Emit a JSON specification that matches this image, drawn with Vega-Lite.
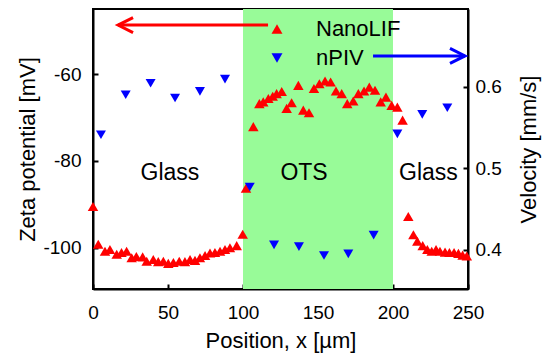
{
  "$schema": "https://vega.github.io/schema/vega-lite/v6.json",
  "width": 375,
  "height": 280,
  "autosize": {"type": "none"},
  "padding": {"left": 93, "top": 9, "right": 79, "bottom": 65},
  "config": {
    "font": "Liberation Sans",
    "view": {"stroke": "black", "strokeWidth": 2},
    "axis": {
      "grid": false,
      "domainColor": "black",
      "domainWidth": 2,
      "tickColor": "black",
      "tickWidth": 2,
      "tickSize": -5,
      "labelColor": "black",
      "labelFontSize": 19,
      "labelFont": "Liberation Sans",
      "labelFlush": false,
      "titleColor": "black",
      "titleFontSize": 22,
      "titleFontWeight": "normal",
      "titleFont": "Liberation Sans"
    }
  },
  "datasets": {
    "band": [{"x": 100, "x2": 200}],
    "nanolif": [
      {"x": 0, "v": -90.5, "series": "NanoLIF"},
      {"x": 3.5, "v": -99.2, "series": "NanoLIF"},
      {"x": 8, "v": -100.8, "series": "NanoLIF"},
      {"x": 11.3, "v": -100.4, "series": "NanoLIF"},
      {"x": 15.8, "v": -101.5, "series": "NanoLIF"},
      {"x": 19, "v": -101.1, "series": "NanoLIF"},
      {"x": 22.4, "v": -100.8, "series": "NanoLIF"},
      {"x": 25.8, "v": -102.3, "series": "NanoLIF"},
      {"x": 28.9, "v": -102.0, "series": "NanoLIF"},
      {"x": 33.1, "v": -102.1, "series": "NanoLIF"},
      {"x": 35.8, "v": -103.1, "series": "NanoLIF"},
      {"x": 40.2, "v": -102.7, "series": "NanoLIF"},
      {"x": 43.5, "v": -103.2, "series": "NanoLIF"},
      {"x": 46.9, "v": -103.1, "series": "NanoLIF"},
      {"x": 50.2, "v": -103.6, "series": "NanoLIF"},
      {"x": 53.6, "v": -103.4, "series": "NanoLIF"},
      {"x": 57.5, "v": -103.1, "series": "NanoLIF"},
      {"x": 61.3, "v": -103.2, "series": "NanoLIF"},
      {"x": 64.7, "v": -102.7, "series": "NanoLIF"},
      {"x": 68, "v": -102.9, "series": "NanoLIF"},
      {"x": 71.3, "v": -102.3, "series": "NanoLIF"},
      {"x": 74.7, "v": -101.8, "series": "NanoLIF"},
      {"x": 78, "v": -101.2, "series": "NanoLIF"},
      {"x": 81.3, "v": -101.1, "series": "NanoLIF"},
      {"x": 84.7, "v": -100.8, "series": "NanoLIF"},
      {"x": 88, "v": -100.4, "series": "NanoLIF"},
      {"x": 91.3, "v": -100.0, "series": "NanoLIF"},
      {"x": 95.8, "v": -99.5, "series": "NanoLIF"},
      {"x": 99.8, "v": -96.9, "series": "NanoLIF"},
      {"x": 102, "v": -86.3, "series": "NanoLIF"},
      {"x": 106.9, "v": -72.1, "series": "NanoLIF"},
      {"x": 110.9, "v": -66.8, "series": "NanoLIF"},
      {"x": 113.5, "v": -66.4, "series": "NanoLIF"},
      {"x": 116.9, "v": -65.6, "series": "NanoLIF"},
      {"x": 119.8, "v": -65.1, "series": "NanoLIF"},
      {"x": 122.4, "v": -64.5, "series": "NanoLIF"},
      {"x": 125.8, "v": -64.0, "series": "NanoLIF"},
      {"x": 129.1, "v": -67.9, "series": "NanoLIF"},
      {"x": 132.4, "v": -66.6, "series": "NanoLIF"},
      {"x": 136.9, "v": -62.6, "series": "NanoLIF"},
      {"x": 140.2, "v": -68.3, "series": "NanoLIF"},
      {"x": 144, "v": -68.9, "series": "NanoLIF"},
      {"x": 147.3, "v": -63.3, "series": "NanoLIF"},
      {"x": 150.9, "v": -62.2, "series": "NanoLIF"},
      {"x": 154.7, "v": -61.6, "series": "NanoLIF"},
      {"x": 158.4, "v": -61.8, "series": "NanoLIF"},
      {"x": 162, "v": -63.9, "series": "NanoLIF"},
      {"x": 165.8, "v": -64.5, "series": "NanoLIF"},
      {"x": 169.5, "v": -66.8, "series": "NanoLIF"},
      {"x": 173.5, "v": -66.2, "series": "NanoLIF"},
      {"x": 176.9, "v": -64.5, "series": "NanoLIF"},
      {"x": 180.7, "v": -63.9, "series": "NanoLIF"},
      {"x": 184.2, "v": -63.0, "series": "NanoLIF"},
      {"x": 188, "v": -63.7, "series": "NanoLIF"},
      {"x": 191.8, "v": -66.4, "series": "NanoLIF"},
      {"x": 195.3, "v": -65.3, "series": "NanoLIF"},
      {"x": 199.1, "v": -67.2, "series": "NanoLIF"},
      {"x": 202.9, "v": -67.6, "series": "NanoLIF"},
      {"x": 206.4, "v": -70.6, "series": "NanoLIF"},
      {"x": 210.2, "v": -92.8, "series": "NanoLIF"},
      {"x": 213.6, "v": -97.0, "series": "NanoLIF"},
      {"x": 216.2, "v": -98.5, "series": "NanoLIF"},
      {"x": 219.8, "v": -99.5, "series": "NanoLIF"},
      {"x": 222.9, "v": -100.4, "series": "NanoLIF"},
      {"x": 225.8, "v": -100.8, "series": "NanoLIF"},
      {"x": 228.7, "v": -100.4, "series": "NanoLIF"},
      {"x": 231.3, "v": -100.8, "series": "NanoLIF"},
      {"x": 234.7, "v": -101.0, "series": "NanoLIF"},
      {"x": 237.6, "v": -101.1, "series": "NanoLIF"},
      {"x": 240.7, "v": -101.1, "series": "NanoLIF"},
      {"x": 243.6, "v": -101.3, "series": "NanoLIF"},
      {"x": 246.4, "v": -101.7, "series": "NanoLIF"},
      {"x": 249.2, "v": -101.9, "series": "NanoLIF"}
    ],
    "npiv": [
      {"x": 5.3, "u": 0.541, "series": "nPIV"},
      {"x": 21.8, "u": 0.590, "series": "nPIV"},
      {"x": 38.4, "u": 0.604, "series": "nPIV"},
      {"x": 54.7, "u": 0.586, "series": "nPIV"},
      {"x": 71.3, "u": 0.594, "series": "nPIV"},
      {"x": 88, "u": 0.609, "series": "nPIV"},
      {"x": 104.5, "u": 0.477, "series": "nPIV"},
      {"x": 120.7, "u": 0.406, "series": "nPIV"},
      {"x": 137.3, "u": 0.404, "series": "nPIV"},
      {"x": 154, "u": 0.393, "series": "nPIV"},
      {"x": 170.2, "u": 0.395, "series": "nPIV"},
      {"x": 187.1, "u": 0.418, "series": "nPIV"},
      {"x": 202.9, "u": 0.542, "series": "nPIV"},
      {"x": 219.5, "u": 0.566, "series": "nPIV"},
      {"x": 236.2, "u": 0.574, "series": "nPIV"}
    ],
    "redline": [{"x": 16.7, "x2": 116.7, "v": -48.7}],
    "redhead": [{"x": 16.7, "v": -48.7}],
    "blueline": [{"x": 186.7, "x2": 248, "v": -55.8}],
    "bluehead": [{"x": 248, "v": -55.8}],
    "labels": [
      {"x": 51.3, "v": -84.4, "text": "Glass"},
      {"x": 140.7, "v": -84.4, "text": "OTS"},
      {"x": 223.6, "v": -84.4, "text": "Glass"}
    ]
  },
  "layer": [
    {
      "layer": [
        {
          "data": {"name": "band"},
          "mark": {"type": "rect", "color": "#98fb98"},
          "encoding": {
            "x": {"field": "x", "type": "quantitative", "scale": {"domain": [0, 250], "nice": false}},
            "x2": {"field": "x2"}
          }
        },
        {
          "data": {"name": "nanolif"},
          "mark": {"type": "point", "filled": true, "opacity": 1, "size": 110, "strokeWidth": 0},
          "encoding": {
            "x": {
              "field": "x", "type": "quantitative",
              "scale": {"domain": [0, 250], "nice": false},
              "axis": {"title": "Position, x [µm]", "values": [0, 50, 100, 150, 200, 250], "labelPadding": 19, "titlePadding": 8}
            },
            "y": {
              "field": "v", "type": "quantitative",
              "scale": {"domain": [-109.5, -45], "nice": false, "zero": false},
              "axis": {"orient": "left", "title": "Zeta potential [mV]", "values": [-100, -80, -60], "labelExpr": "'' + datum.value", "labelPadding": 17, "titlePadding": 3}
            },
            "color": {
              "field": "series", "type": "nominal",
              "scale": {"domain": ["NanoLIF", "nPIV"], "range": ["#ff0000", "#0000ff"]},
              "legend": {"orient": "none", "legendX": 173, "legendY": 9, "title": null, "padding": 0, "symbolSize": 120, "labelFontSize": 22, "labelFont": "Liberation Sans", "labelColor": "black", "labelOffset": 28, "rowPadding": 7, "symbolStrokeWidth": 0}
            },
            "shape": {
              "field": "series", "type": "nominal",
              "scale": {"domain": ["NanoLIF", "nPIV"], "range": ["triangle-up", "triangle-down"]},
              "legend": {"orient": "none", "legendX": 173, "legendY": 9, "title": null, "padding": 0, "symbolSize": 120, "labelFontSize": 22, "labelFont": "Liberation Sans", "labelColor": "black", "labelOffset": 28, "rowPadding": 7, "symbolStrokeWidth": 0}
            }
          }
        },
        {
          "data": {"name": "redline"},
          "mark": {"type": "rule", "color": "#ff0000", "strokeWidth": 3},
          "encoding": {
            "x": {"field": "x", "type": "quantitative", "scale": {"domain": [0, 250], "nice": false}},
            "x2": {"field": "x2"},
            "y": {"field": "v", "type": "quantitative", "scale": {"domain": [-109.5, -45], "nice": false, "zero": false}}
          }
        },
        {
          "data": {"name": "redhead"},
          "mark": {"type": "point", "shape": "M2,-1L0,0L2,1", "filled": false, "color": "#ff0000", "strokeWidth": 3, "size": 225, "opacity": 1},
          "encoding": {
            "x": {"field": "x", "type": "quantitative", "scale": {"domain": [0, 250], "nice": false}},
            "y": {"field": "v", "type": "quantitative", "scale": {"domain": [-109.5, -45], "nice": false, "zero": false}}
          }
        },
        {
          "data": {"name": "blueline"},
          "mark": {"type": "rule", "color": "#0000ff", "strokeWidth": 3},
          "encoding": {
            "x": {"field": "x", "type": "quantitative", "scale": {"domain": [0, 250], "nice": false}},
            "x2": {"field": "x2"},
            "y": {"field": "v", "type": "quantitative", "scale": {"domain": [-109.5, -45], "nice": false, "zero": false}}
          }
        },
        {
          "data": {"name": "bluehead"},
          "mark": {"type": "point", "shape": "M-2,-1L0,0L-2,1", "filled": false, "color": "#0000ff", "strokeWidth": 3, "size": 225, "opacity": 1},
          "encoding": {
            "x": {"field": "x", "type": "quantitative", "scale": {"domain": [0, 250], "nice": false}},
            "y": {"field": "v", "type": "quantitative", "scale": {"domain": [-109.5, -45], "nice": false, "zero": false}}
          }
        },
        {
          "data": {"name": "labels"},
          "mark": {"type": "text", "fontSize": 23, "font": "Liberation Sans", "color": "black", "align": "center", "baseline": "alphabetic"},
          "encoding": {
            "x": {"field": "x", "type": "quantitative", "scale": {"domain": [0, 250], "nice": false}},
            "y": {"field": "v", "type": "quantitative", "scale": {"domain": [-109.5, -45], "nice": false, "zero": false}},
            "text": {"field": "text"}
          }
        }
      ]
    },
    {
      "data": {"name": "npiv"},
      "mark": {"type": "point", "filled": true, "opacity": 1, "size": 100, "strokeWidth": 0},
      "encoding": {
        "x": {"field": "x", "type": "quantitative", "scale": {"domain": [0, 250], "nice": false}},
        "y": {
          "field": "u", "type": "quantitative",
          "scale": {"domain": [0.352, 0.695], "nice": false, "zero": false},
          "axis": {"orient": "right", "title": "Velocity [mm/s]", "values": [0.4, 0.5, 0.6], "format": ".1f", "labelPadding": 12, "titleAngle": 270, "titleBaseline": "top", "titlePadding": 17}
        },
        "color": {"field": "series", "type": "nominal", "scale": {"domain": ["NanoLIF", "nPIV"], "range": ["#ff0000", "#0000ff"]}, "legend": null},
        "shape": {"field": "series", "type": "nominal", "scale": {"domain": ["NanoLIF", "nPIV"], "range": ["triangle-up", "triangle-down"]}, "legend": null}
      }
    }
  ],
  "resolve": {"scale": {"y": "independent"}}
}
